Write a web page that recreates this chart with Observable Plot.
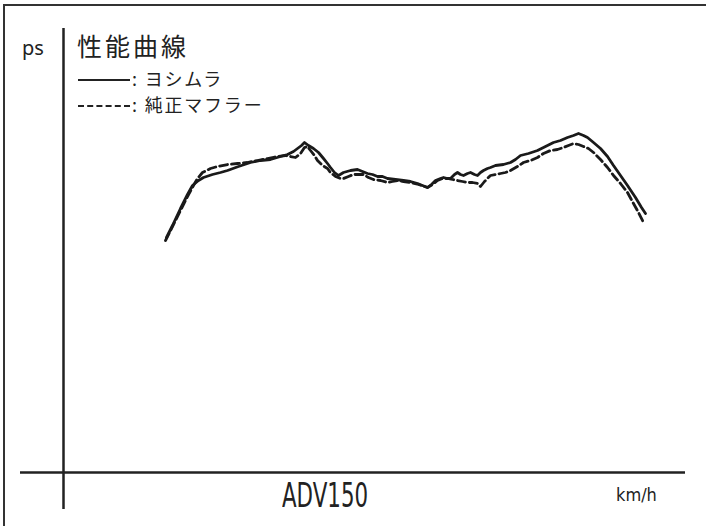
<!DOCTYPE html>
<html>
<head>
<meta charset="utf-8">
<script src="https://cdn.jsdelivr.net/npm/d3@7"></script>
<script src="https://cdn.jsdelivr.net/npm/@observablehq/plot@0.6"></script>
<style>
  html, body { margin: 0; padding: 0; background: #fff; }
  #wrap { position: relative; width: 706px; height: 526px; overflow: hidden; font-family: "Noto Sans CJK JP", "Noto Sans", sans-serif; color: #222; }
  #frame { position: absolute; left: 3px; top: 4px; width: 703px; height: 522px; border-top: 2px solid #333; border-left: 2px solid #333; box-sizing: border-box; }
  #plot { position: absolute; left: 0; top: 0; }
  .lbl { position: absolute; white-space: nowrap; line-height: 1; }
  .sw { display: inline-block; width: 52px; height: 0; vertical-align: middle; margin-right: 2px; position: relative; top: -1px; }
  .leg { font-size: 18px; letter-spacing: 1.8px; }
</style>
</head>
<body>
<div id="wrap">
  <div id="plot"></div>
  <div id="frame"></div>
  <div class="lbl" style="left:22px;top:38px;font-size:20px;font-family:'Noto Sans','DejaVu Sans',sans-serif;">ps</div>
  <div class="lbl" style="left:77px;top:33px;font-size:25px;letter-spacing:3px;">性能曲線</div>
  <div class="lbl leg" style="left:78px;top:69px;"><span class="sw" style="border-top:2.5px solid #222;"></span>: ヨシムラ</div>
  <div class="lbl leg" style="left:78px;top:95px;"><span class="sw" style="border-top:2.5px dashed #222;"></span>: 純正マフラー</div>
  <div class="lbl" style="left:282px;top:479px;font-size:33px;font-family:'DejaVu Sans Condensed','DejaVu Sans';transform:scaleX(0.72);transform-origin:left top;">ADV150</div>
  <div class="lbl" style="left:616px;top:486px;font-size:18px;font-family:'DejaVu Sans Condensed','DejaVu Sans';">km/h</div>
</div>
<script>
// speed (km/h, approximate) and power (ps, approximate)
const yoshimuraSpeed = [20.6,21.8,23.4,24.8,25.8,27,28,29.8,31.4,32.8,35,37.4,39.4,41.4,43.4,44.8,46,46.8,47.6,48.2,49,50,51,52,52.8,53.4,54.2,55,56,57.4,58.8,59.8,60.8,61.8,62.8,63.8,64.8,66.4,68,69.4,70.8,71.8,72.8,73.6,74.4,75.4,76,76.8,77.4,78.2,78.8,79.4,80,80.8,81.4,82.2,82.8,83.4,84,84.8,85.4,86.4,88,89.4,90.4,91.4,93,94.8,96.4,98,99.4,100.8,102,103,104,104.8,106,107.4,108.8,110,111.4,112.8,114.4,115.6,116.4];
const yoshimuraPs = [11.75,12.35,13.2,13.9,14.35,14.6,14.75,14.9,15,15.1,15.3,15.5,15.6,15.65,15.8,15.9,16.05,16.2,16.35,16.5,16.35,16.2,16,15.7,15.45,15.25,15,14.85,15,15.1,15.15,15.05,14.95,14.9,14.8,14.8,14.7,14.65,14.6,14.55,14.45,14.35,14.25,14.4,14.6,14.7,14.75,14.7,14.7,14.9,15,14.9,14.85,14.95,15,14.9,14.85,15,15.1,15.2,15.25,15.35,15.4,15.5,15.65,15.85,15.95,16.1,16.3,16.5,16.6,16.75,16.85,16.95,16.85,16.75,16.5,16.2,15.8,15.35,14.85,14.35,13.75,13.25,12.95];
const stockSpeed = [20.4,21.8,23.4,24.8,26,26.8,27.8,29.4,30.8,32.8,34.8,36.8,38.8,40.8,42.8,44.4,45.4,46.4,47.4,48.2,48.8,49.4,50.2,50.8,51.8,52.8,53.4,54.4,55.4,56,57,58,59,60,61,62,63.4,64.8,65.8,66.8,68,69.4,71,72.2,72.8,73.8,74.8,75.8,76.8,77.8,78.8,79.8,80.8,81.8,82.8,83.4,84.2,84.8,85.4,86.4,87.4,88.4,89.4,90.8,92,93.4,94.8,96,97.4,98.8,100,101,102,103,104,105,106,107.4,108.8,110,111.4,112.8,114,115,116];
const stockPs = [11.6,12.3,13.1,13.8,14.35,14.7,15,15.2,15.3,15.4,15.45,15.5,15.6,15.7,15.8,15.85,15.8,15.75,15.95,16.25,16.3,16.1,15.85,15.6,15.35,15.2,15,14.8,14.7,14.7,14.8,14.9,14.9,14.9,14.75,14.65,14.6,14.5,14.55,14.6,14.55,14.5,14.4,14.3,14.25,14.4,14.6,14.7,14.7,14.65,14.6,14.55,14.5,14.5,14.45,14.3,14.55,14.7,14.85,14.9,14.95,15,15.1,15.3,15.5,15.6,15.75,15.95,16.1,16.15,16.25,16.35,16.45,16.4,16.3,16.2,16,15.65,15.25,14.85,14.45,14,13.45,13,12.5];

// axis extents (data units)
const speedDomain = [-12.6, 128.6];
const psDomain = [-2.7, 23.6];
const hAxis = {from: -8.6, to: 124.4};
const vAxis = {from: 22.2, to: -1.85};

const yoshimura = yoshimuraSpeed.map((s, i) => ({speed: s, ps: yoshimuraPs[i]}));
const stock = stockSpeed.map((s, i) => ({speed: s, ps: stockPs[i]}));

const chart = Plot.plot({
  width: 706,
  height: 526,
  marginTop: 0, marginRight: 0, marginBottom: 0, marginLeft: 0,
  x: {domain: speedDomain, axis: null},
  y: {domain: psDomain, axis: null},
  marks: [
    Plot.ruleY([0], {x1: hAxis.from, x2: hAxis.to, stroke: "#222", strokeWidth: 2.5}),
    Plot.ruleX([0], {y1: vAxis.from, y2: vAxis.to, stroke: "#222", strokeWidth: 2.5}),
    Plot.line(stock, {x: "speed", y: "ps", stroke: "#1a1a1a", strokeWidth: 2.8, strokeDasharray: "8,4", strokeLinejoin: "round"}),
    Plot.line(yoshimura, {x: "speed", y: "ps", stroke: "#1a1a1a", strokeWidth: 2.8, strokeLinejoin: "round", strokeLinecap: "round"})
  ]
});
document.getElementById("plot").appendChild(chart);
</script>
</body>
</html>
